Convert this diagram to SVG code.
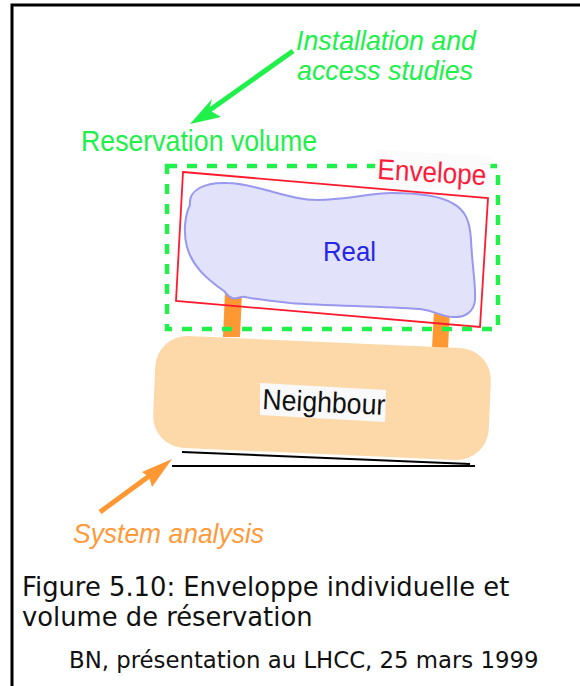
<svg xmlns="http://www.w3.org/2000/svg" width="580" height="686" viewBox="0 0 580 686">
<style>
.lbl{font-family:"Liberation Sans",Arial,sans-serif}
.grn{fill:#20f04a}
.cap{font-family:"DejaVu Sans",Verdana,sans-serif;fill:#111}
</style>
<rect width="580" height="686" fill="#fff"/>
<path d="M12,686 V5 H580" fill="none" stroke="#000" stroke-width="3"/>

<g id="annotation-installation">
<text class="lbl grn" x="296" y="50" font-size="28" font-style="italic" textLength="180" lengthAdjust="spacingAndGlyphs">Installation and</text>
<text class="lbl grn" x="297" y="80" font-size="28" font-style="italic" textLength="176" lengthAdjust="spacingAndGlyphs">access studies</text>
</g>

<g id="label-reservation">
<text class="lbl grn" x="81" y="151" font-size="30" textLength="236" lengthAdjust="spacingAndGlyphs">Reservation volume</text>
</g>

<g id="posts">
<polygon points="225,292 242,292 240,337 223,337" fill="#ff9733"/>
<polygon points="434,310 450,310 448,348 432,348" fill="#ff9733"/>
</g>

<g id="neighbour">
<rect x="154" y="342" width="336" height="112" rx="32" ry="32" fill="#fdd9aa" transform="rotate(2.5 322 398)"/>
<polygon points="260,383 386,390 385,422 260,415" fill="#f9f9f9"/>
<text class="lbl" x="0" y="0" font-size="29" fill="#111" textLength="123" lengthAdjust="spacingAndGlyphs" transform="translate(262,409) rotate(2.8)">Neighbour</text>
<line x1="182" y1="452" x2="470" y2="464" stroke="#000" stroke-width="2"/>
<line x1="172" y1="466" x2="475" y2="466" stroke="#000" stroke-width="2"/>
</g>

<g id="real">
<path d="M190,205 C188,190 205,182 227,183 C240,183 250,186 262,189 C285,195 300,200 317,200 C345,200 370,193 392,193 C420,193 440,196 452,203 C466,210 470,222 471,240 C472,265 476,285 475,300 C474,312 465,318 452,317 C440,316 435,311 420,309 C380,306 330,306 290,303 C270,301 255,299 245,297 C240,296 236,300 232,298 C228,297 226,293 224,291 C205,278 192,265 187,247 C183,232 185,215 190,205 Z" fill="#e2e2fb" stroke="#9898ee" stroke-width="2"/>
<text class="lbl" x="323" y="261" font-size="28" fill="#2626e6" textLength="53" lengthAdjust="spacingAndGlyphs">Real</text>
</g>

<g id="envelope">
<polygon points="183,172 488,198 480,327 176,301" fill="none" stroke="#ff1a2e" stroke-width="1.8"/>
</g>

<g id="reservation-volume">
<rect x="167" y="166" width="331" height="163" fill="none" stroke="#20f04a" stroke-width="4.5" stroke-dasharray="10 10"/>
</g>

<g id="label-envelope">
<polygon points="376,150 491,156 489,192 374,186" fill="#fbfbfb"/>
<text class="lbl" x="0" y="0" font-size="29" fill="#ff1a3a" textLength="109" lengthAdjust="spacingAndGlyphs" transform="translate(377,179) rotate(3.2)">Envelope</text>
</g>

<g id="annotation-system">
<text class="lbl" x="73" y="543" font-size="28" font-style="italic" fill="#ff9a3a" textLength="191" lengthAdjust="spacingAndGlyphs">System analysis</text>
</g>

<g id="connectors">
<line x1="293" y1="51" x2="207" y2="112" stroke="#20f04a" stroke-width="5"/>
<polygon points="190,124 212,99 209,110 221,117" fill="#20f04a"/>
<line x1="100" y1="512" x2="152" y2="474" stroke="#ff9733" stroke-width="5"/>
<polygon points="172,459 142,472 149,477 152,487" fill="#ff9733"/>
</g>

<g id="caption">
<text class="cap" x="22" y="596" font-size="25.8">Figure 5.10: Enveloppe individuelle et</text>
<text class="cap" x="22" y="626" font-size="25.8">volume de réservation</text>
<text class="cap" x="69" y="668" font-size="22.8">BN, présentation au LHCC, 25 mars 1999</text>
</g>
</svg>
